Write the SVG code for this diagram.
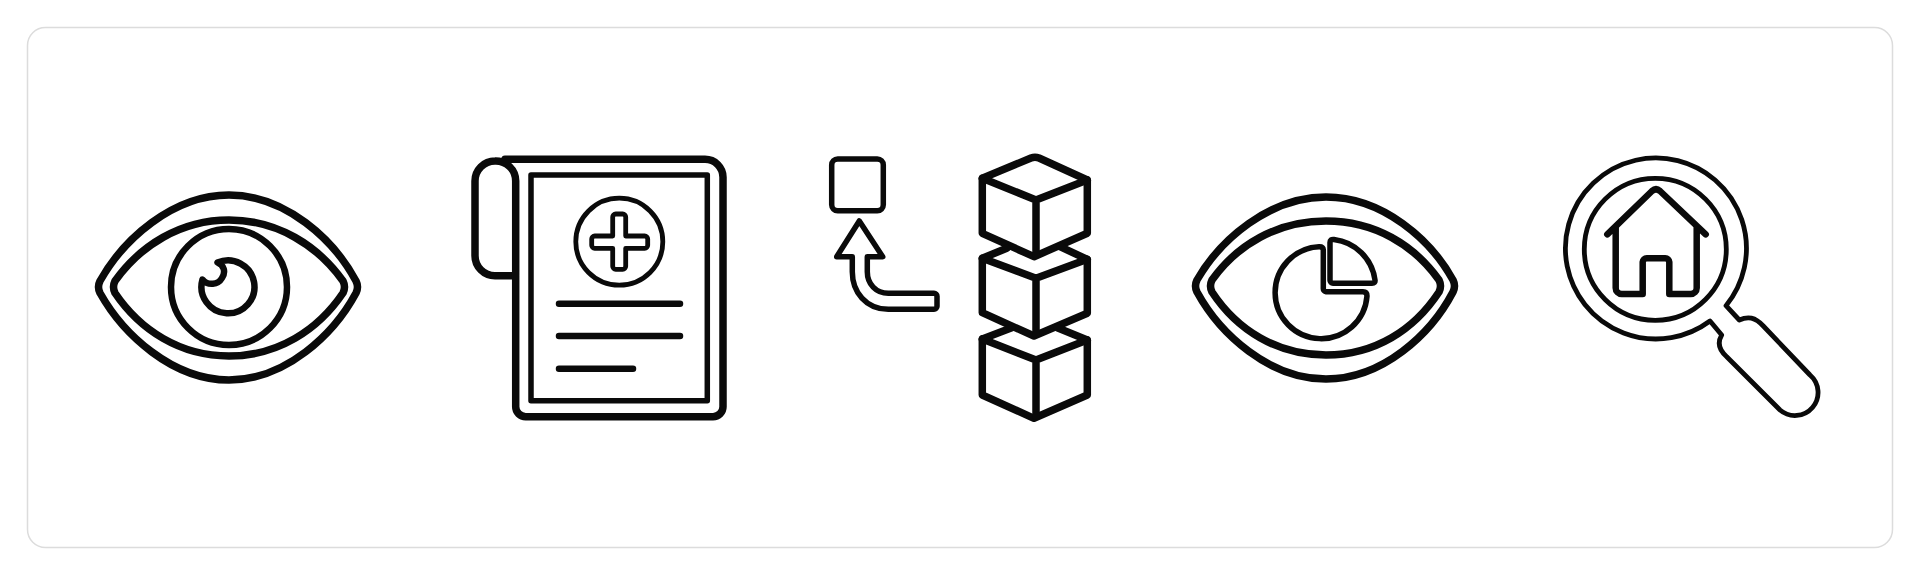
<svg xmlns="http://www.w3.org/2000/svg" width="1920" height="576" viewBox="0 0 1920 576">
<style>
.i{fill:none;stroke:#0a0a0a;stroke-linecap:round;stroke-linejoin:round}
.w7{stroke-width:7.500}.w6{stroke-width:6.500}.w5{stroke-width:5.500}.w4{stroke-width:4.800}
</style>
<rect width="1920" height="576" fill="#fff"/>
<rect id="panel" x="27.500" y="27.500" width="1865" height="520" rx="18" fill="#fff" stroke="#dcdcdc" stroke-width="1.500"/>
<g id="eye-iris" class="i w7">
<path d="M100 281C123 240 172 195 229 195C286 195 334 240 356 281Q359 287 356 293C334 334 286 380 229 380C172 380 123 334 100 293Q97 287 100 281Z"/>
<path d="M115 281C140 246 180 220 229 220C278 220 318 246 343 281Q346 287 343 293C318 330 278 356 229 356C180 356 140 330 115 293Q112 287 115 281Z"/>
<circle class="w6" cx="229" cy="287" r="58"/>
<path class="w6" d="M217.500 262.500A26.500 26.500 0 1 1 202.500 279.500C208 286 218 285 222 278C226 272 224 265 217.500 262.500Z"/>
</g>
<g id="medical-document" class="i">
<path class="w7" d="M505 159.300H705A18 18 0 0 1 723 177.300V406.700A10 10 0 0 1 713 416.700H525.700A10 10 0 0 1 515.700 406.700V181A20 20 0 0 0 495 161A20 20 0 0 0 475 181V255.700A20 20 0 0 0 495 275.700H515.700"/>
<path class="w5" d="M531 175H707.300V400.700H531Z"/>
<circle class="w4" cx="619.300" cy="241.700" r="43.500"/>
<path class="w4" d="M612.700 217A3 3 0 0 1 615.700 214H622.700A3 3 0 0 1 625.700 217V236H644.700A3 3 0 0 1 647.700 239V245.300A3 3 0 0 1 644.700 248.300H625.700V266.300A3 3 0 0 1 622.700 269.300H615.700A3 3 0 0 1 612.700 266.300V248.300H594.700A3 3 0 0 1 591.700 245.300V239A3 3 0 0 1 594.700 236H612.700Z"/>
<path class="w6" d="M559 303.700H680M559 336H680M559 368.700H633"/>
</g>
<g id="arrow-to-square" class="i w5">
<rect x="831.700" y="159" width="51.600" height="51.700" rx="6"/>
<path d="M859.300 221L882.700 256.700H867.300V271.700C867.300 284 876 293.300 888.300 293.300H934A3 3 0 0 1 937 296.300V306.300A3 3 0 0 1 934 309.300H888.300C866 309.300 852.300 292 852.300 271.700V256.700H836.700Z"/>
</g>
<g id="cube-stack" class="i w7">
<path d="M982.300 178.300L1031 158Q1035 156.500 1039 158L1087.300 180V233.300L1034 256.700L982.300 233.300Z"/>
<path d="M982.300 178.300L1036 200L1087.300 180M1036 200V255"/>
<path d="M1006.700 248.300L982.300 258.300V312.700L1034 336L1087.300 313.300V259.300L1060 246.700"/>
<path d="M982.300 258.300L1036 278.300L1087.300 259.300M1036 278.300V334"/>
<path d="M1011.700 327.700L982.300 339V395L1034 418.300L1087.300 395V340L1057.300 327.700"/>
<path d="M982.300 339L1036 360L1087.300 340M1036 360V416"/>
</g>
<g id="eye-chart" class="i w7">
<path d="M1197 280C1220 240 1269 197 1326 197C1383 197 1431 240 1453 280Q1456 286 1453 292C1431 334 1383 379 1326 379C1269 379 1220 334 1197 292Q1194 286 1197 280Z"/>
<path d="M1212 280C1237 245 1277 221 1326 221C1375 221 1414 245 1439 280Q1442 286 1439 292C1414 330 1375 355 1326 355C1277 355 1237 330 1212 292Q1209 286 1212 280Z"/>
<path class="w5" d="M1319 246.700A46 46 0 1 0 1367 296Q1367 291.700 1363 291.700H1326A3 3 0 0 1 1323.300 288.700V249.700Q1323 246.500 1319 246.700Z"/>
<path class="w5" d="M1330 242.500Q1330 239 1334 239.500A47 47 0 0 1 1375 280Q1375.500 283.300 1372 283.300H1333A3 3 0 0 1 1330 280.300Z"/>
</g>
<g id="home-search" class="i">
<path class="w4" d="M1726 305.700A90.500 90.500 0 1 0 1710 321L1721.700 335C1717 343 1719 350 1726.700 356.700L1780 410A23 23 0 0 0 1810 375L1763.300 326C1755 317 1748 316 1739.300 320Z"/>
<circle class="w4" cx="1655.300" cy="249.300" r="71"/>
<path class="w6" d="M1607.300 234.300L1652 191Q1656 187.500 1660 191L1705.700 234.300M1615.700 226.700V288A6 6 0 0 0 1621.700 294H1642.700V262A4 4 0 0 1 1646.700 258.300H1665.300A4 4 0 0 1 1669.300 262V294H1690.700A6 6 0 0 0 1696.700 288V226.700"/>
</g>
</svg>
